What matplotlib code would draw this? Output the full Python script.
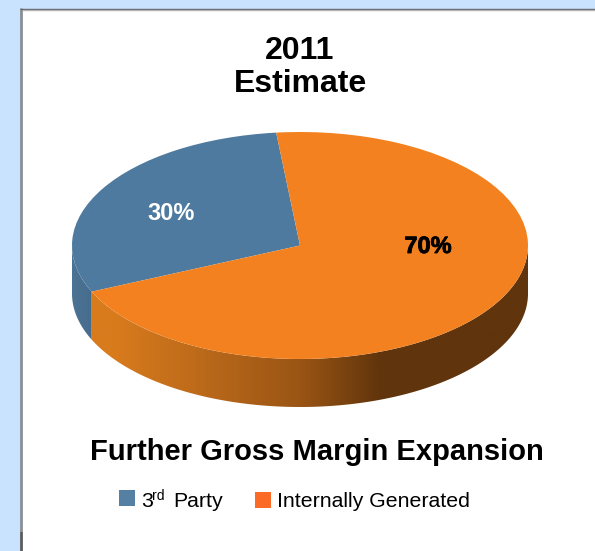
import matplotlib
matplotlib.use("Agg")
import matplotlib.pyplot as plt
import matplotlib.patheffects as pe
from matplotlib.colors import LinearSegmentedColormap
from matplotlib.patches import Polygon, Rectangle
import numpy as np

plt.rcParams['font.family'] = ['Liberation Sans', 'DejaVu Sans']

categories = ['3rd Party', 'Internally Generated']
shares = [30, 70]
colors = ['#4e7a9f', '#f3811f']
legend_colors = ['#557fa3', '#fb6a26']
title = '2011\nEstimate'
subtitle = 'Further Gross Margin Expansion'

W, H = 595, 551
start_angle = 96

# ellipse of the pie top, in pixels
cx, cy, rx, ry = 300, 245.5, 228, 113.5
depth = 48

fig = plt.figure(figsize=(W / 100, H / 100), dpi=100, facecolor='#c9e3ff')

# page layer, y pointing down
ax = fig.add_axes([0, 0, 1, 1])
ax.set_xlim(0, W)
ax.set_ylim(H, 0)
ax.axis('off')

ax.add_patch(Rectangle((21, 9), W - 21, H - 9, fc='white', ec='none'))
ax.plot([20.5, 20.5], [8, 531], color='#8a8f94', lw=2, solid_capstyle='butt')
ax.plot([20.5, 20.5], [531, H], color='#5c5c5c', lw=2, solid_capstyle='butt')
ax.plot([20, W], [8.5, 8.5], color='#5f6366', lw=1, solid_capstyle='butt')
ax.plot([22, W], [9.5, 9.5], color='#b4b4b4', lw=1, solid_capstyle='butt')


def rim(t0, t1):
    # band below the top ellipse between two angles
    t = np.radians(np.linspace(t0, t1, 200))
    x = cx + rx * np.cos(t)
    y = cy - ry * np.sin(t)
    return np.column_stack([np.r_[x, x[::-1]], np.r_[y, y[::-1] + depth]])


def shaded_rim(t0, t1, cmap):
    xs = np.linspace(0, 1, 256).reshape(1, -1)
    im = ax.imshow(xs, cmap=cmap, extent=(cx - rx, cx + rx, cy + ry + depth, cy - ry),
                   aspect='auto', vmin=0, vmax=1, zorder=2)
    poly = Polygon(rim(t0, t1), closed=True, fc='none', ec='none', transform=ax.transData)
    ax.add_patch(poly)
    im.set_clip_path(poly)


# the slice boundary comes from the shares
split = start_angle + 360 * shares[0] / sum(shares)

orange_side = LinearSegmentedColormap.from_list('orange_side', [
    (0.0, '#d87b1d'), (0.09, '#d87b1d'), (0.30, '#b9681a'), (0.50, '#9a5514'),
    (0.68, '#60340c'), (1.0, '#60340c')])
blue_short = LinearSegmentedColormap.from_list('blue_short', [
    (0.0, '#4c7394'), (0.09, '#3f6586'), (1.0, '#3f6586')])

shaded_rim(180, split, blue_short)
shaded_rim(split, 360, orange_side)
ax.set_xlim(0, W)
ax.set_ylim(H, 0)

# pie top squeezed into the ellipse
ax_pie = fig.add_axes([(cx - rx) / W, 1 - (cy + ry) / H, 2 * rx / W, 2 * ry / H])
ax_pie.pie(shares, colors=colors, startangle=start_angle, counterclock=True, radius=1,
           wedgeprops={'linewidth': 0})
ax_pie.set_aspect('auto')
ax_pie.set_xlim(-1, 1)
ax_pie.set_ylim(-1, 1)
ax_pie.patch.set_alpha(0)

ax_pie.text(171, 213.5, f'{shares[0]}%', transform=ax.transData, ha='center', va='center',
            fontsize=17, fontweight='bold', color='white', clip_on=False)
ax_pie.text(428, 246.5, f'{shares[1]}%', transform=ax.transData, ha='center', va='center',
            fontsize=17, fontweight='bold', color='black', clip_on=False,
            path_effects=[pe.withStroke(linewidth=0.6, foreground='black')])

ax.text(300, 67.5, title, ha='center', va='center', fontsize=23, fontweight='bold',
        color='black', linespacing=1.17)
ax.text(316.5, 452, subtitle, ha='center', va='center', fontsize=21, fontweight='bold',
        color='black')

# legend
ax.add_patch(Rectangle((119, 490), 16, 16, fc=legend_colors[0], ec='none'))
ax.add_patch(Rectangle((255, 492), 16, 16, fc=legend_colors[1], ec='none'))
ax.text(141, 507, categories[0][0], ha='left', va='baseline', fontsize=15.3)
ax.text(152, 500, categories[0][1:3], ha='left', va='baseline', fontsize=10)
ax.text(173, 507, categories[0][4:], ha='left', va='baseline', fontsize=15.3)
ax.text(277, 507, categories[1], ha='left', va='baseline', fontsize=15.3)

fig.savefig('out.png', dpi=100, facecolor=fig.get_facecolor())
